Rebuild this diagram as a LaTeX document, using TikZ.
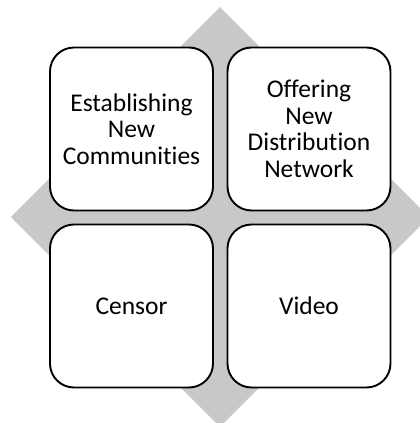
\documentclass[tikz,border=0pt]{standalone}
\usepackage{fontspec}
\setmainfont[Ligatures={NoCommon}]{Carlito}
\definecolor{diamondgray}{RGB}{200,200,200}
\begin{document}
\begin{tikzpicture}[x=1pt,y=-1pt,
  quad/.style={draw=black, line width=1.9pt, fill=white, rounded corners=24pt,
    minimum width=163pt, minimum height=163pt, align=center, inner sep=0pt,
    font=\fontsize{25.5}{26.5}\selectfont}]
\useasboundingbox (0,0) rectangle (420,423);
\fill[diamondgray] (220,7) -- (429,217) -- (220,427) -- (11,217) -- cycle;
\node[quad] (tl) at (131.5,129) {Establishing\\New\\Communities};
\node[quad] (tr) at (309,129) {Offering\\New\\Distribution\\Network};
\node[quad] (bl) at (131.5,306) {Censor};
\node[quad] (br) at (309,306) {Video};
\end{tikzpicture}
\end{document}
